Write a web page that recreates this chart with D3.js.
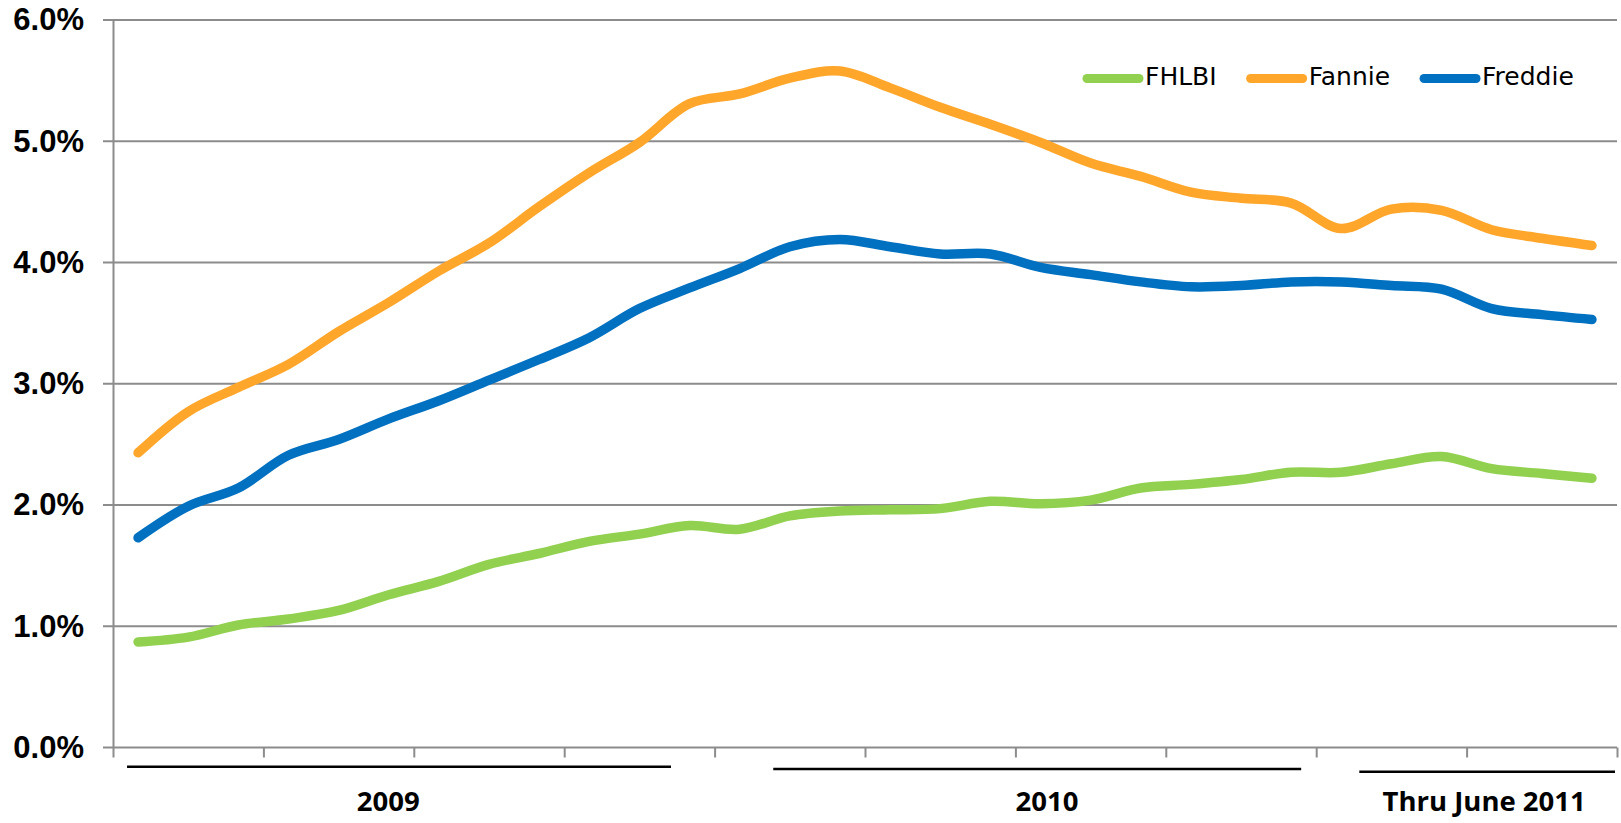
<!DOCTYPE html>
<html>
<head>
<meta charset="utf-8">
<script src="https://cdn.jsdelivr.net/npm/d3@7"></script>
<style>
  body { margin: 0; background: #fff; }
  svg { display: block; }
</style>
</head>
<body>
<script>
// monthly values, Jan 2009 .. Jun 2011 (percent)
const months = d3.range(30).map(i => {
  const d = new Date(2009, i, 1);
  return d3.timeFormat("%b %Y")(d);
});
const fhlbi   = [0.87, 0.91, 1.01, 1.06, 1.13, 1.26, 1.37, 1.51, 1.60, 1.70, 1.76, 1.83, 1.80, 1.91, 1.95,
                 1.96, 1.97, 2.03, 2.01, 2.04, 2.14, 2.17, 2.21, 2.27, 2.27, 2.34, 2.40, 2.30, 2.26, 2.22];
const fannie  = [2.43, 2.77, 2.97, 3.16, 3.43, 3.67, 3.93, 4.16, 4.46, 4.74, 4.99, 5.31, 5.39, 5.52, 5.58,
                 5.44, 5.28, 5.14, 4.99, 4.82, 4.71, 4.58, 4.53, 4.49, 4.28, 4.44, 4.43, 4.27, 4.20, 4.14];
const freddie = [1.73, 1.99, 2.14, 2.41, 2.54, 2.71, 2.86, 3.03, 3.20, 3.38, 3.62, 3.79, 3.95, 4.13, 4.19,
                 4.13, 4.07, 4.07, 3.96, 3.90, 3.84, 3.80, 3.81, 3.84, 3.84, 3.81, 3.78, 3.62, 3.57, 3.53];
const seriesNames = ["FHLBI", "Fannie", "Freddie"];
const seriesColors = ["#92D050", "#FFA62B", "#0070C0"];
const yTicks = [0, 1, 2, 3, 4, 5, 6];
const groups = [
  {label: "2009", from: 0, to: 12},
  {label: "2010", from: 12, to: 24},
  {label: "Thru June 2011", from: 24, to: 30}
];

const series = [fhlbi, fannie, freddie].map((v, k) => ({name: seriesNames[k], color: seriesColors[k], values: v}));

const width = 1621, height = 823;
const margin = {top: 20, right: 4, bottom: 75.5, left: 113};

const svg = d3.select("body").append("svg")
  .attr("width", width)
  .attr("height", height);

const x = d3.scaleBand().domain(months).range([margin.left, width - margin.right]);
const xq = d3.scaleLinear().domain([0, months.length]).range([margin.left, width - margin.right]);
const y = d3.scaleLinear().domain([0, 6]).range([height - margin.bottom, margin.top]);

// gridlines
svg.append("g")
  .selectAll("line")
  .data(yTicks)
  .join("line")
    .attr("x1", margin.left - 10)
    .attr("x2", width - margin.right)
    .attr("y1", d => y(d))
    .attr("y2", d => y(d))
    .attr("stroke", "#8c8c8c")
    .attr("stroke-width", 2);

// y axis
const yAxis = svg.append("g")
  .attr("transform", `translate(${margin.left},0)`)
  .call(d3.axisLeft(y).tickValues(yTicks).tickSize(0).tickPadding(29).tickFormat(d => d.toFixed(1) + "%"));
yAxis.select(".domain").attr("stroke", "#8c8c8c").attr("stroke-width", 2);
yAxis.selectAll("text")
  .style("font", "bold 31px 'Liberation Sans', Arial, sans-serif")
  .attr("fill", "#000");

// x axis ticks (quarters)
const xAxis = svg.append("g")
  .attr("transform", `translate(0,${y(0)})`)
  .call(d3.axisBottom(xq).tickValues(d3.range(0, months.length + 1, 3)).tickSizeInner(10).tickSizeOuter(0).tickFormat(""));
xAxis.select(".domain").remove();
xAxis.selectAll(".tick line").attr("stroke", "#8c8c8c").attr("stroke-width", 2);

// lines
const line = d3.line()
  .x((d, i) => x(months[i]) + x.bandwidth() / 2)
  .y(d => y(d))
  .curve(d3.curveCatmullRom.alpha(0.5));

svg.append("g")
  .attr("fill", "none")
  .selectAll("path")
  .data(series)
  .join("path")
    .attr("d", d => line(d.values))
    .attr("stroke", d => d.color)
    .attr("stroke-width", 9.5)
    .attr("stroke-linecap", "round")
    .attr("stroke-linejoin", "round");

// legend
const legend = svg.append("g").attr("transform", "translate(1083,0)");
let lx = 0;
series.forEach(s => {
  legend.append("line")
    .attr("x1", lx + 4).attr("x2", lx + 56)
    .attr("y1", 78.5).attr("y2", 78.5)
    .attr("stroke", s.color)
    .attr("stroke-width", 9)
    .attr("stroke-linecap", "round");
  const t = legend.append("text")
    .attr("x", lx + 62)
    .attr("y", 84.5)
    .style("font", "25px 'DejaVu Sans', Verdana, sans-serif")
    .attr("fill", "#000")
    .text(s.name);
  lx += 62 + t.node().getComputedTextLength() + 30;
});

// year groups below the axis: underline span and label centre in month units
const groupLayout = [
  {lineFrom: 0.28, lineTo: 11.13, lineY: 766.7, labelAt: 5.49},
  {lineFrom: 13.17, lineTo: 23.7, lineY: 769, labelAt: 18.63},
  {lineFrom: 24.86, lineTo: 29.96, lineY: 771.7, labelAt: 27.35}
];

const g = svg.append("g");
g.selectAll("line")
  .data(groups)
  .join("line")
    .attr("x1", (d, i) => xq(groupLayout[i].lineFrom))
    .attr("x2", (d, i) => xq(groupLayout[i].lineTo))
    .attr("y1", (d, i) => groupLayout[i].lineY)
    .attr("y2", (d, i) => groupLayout[i].lineY)
    .attr("stroke", "#000")
    .attr("stroke-width", 2.5);

g.selectAll("text")
  .data(groups)
  .join("text")
    .attr("x", (d, i) => xq(groupLayout[i].labelAt))
    .attr("y", 811)
    .attr("text-anchor", "middle")
    .style("font", "bold 27.5px 'Open Sans', sans-serif")
    .attr("fill", "#000")
    .text(d => d.label);
</script>
</body>
</html>
